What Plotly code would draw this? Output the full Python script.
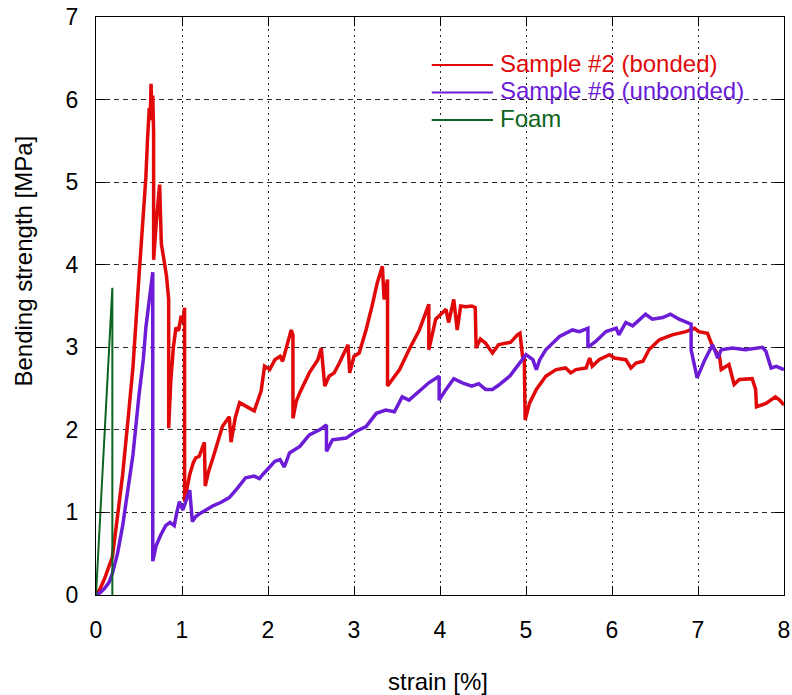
import plotly.graph_objects as go

# Three-point bending tests: stress vs. strain
bonded_strain = [
    0, 0.05, 0.10, 0.15, 0.19, 0.25, 0.31, 0.37, 0.43, 0.50, 0.55, 0.58, 0.60, 0.62, 0.63,
    0.64, 0.65, 0.66, 0.67, 0.67, 0.70, 0.72, 0.74, 0.75, 0.76, 0.79, 0.82, 0.845, 0.845,
    0.87, 0.90, 0.93, 0.96, 0.99, 1.01, 1.03, 1.03, 1.06, 1.09, 1.13, 1.16, 1.20, 1.26,
    1.27, 1.31, 1.36, 1.42, 1.47, 1.51, 1.55, 1.57, 1.62, 1.67, 1.72, 1.78, 1.84, 1.88,
    1.92, 1.96, 2.02, 2.08, 2.14, 2.17, 2.23, 2.27, 2.29, 2.29, 2.33, 2.37, 2.48, 2.58,
    2.62, 2.64, 2.66, 2.71, 2.77, 2.83, 2.93, 2.95, 3.00, 3.06, 3.14, 3.21, 3.27, 3.33,
    3.35, 3.37, 3.39, 3.39, 3.45, 3.53, 3.64, 3.76, 3.87, 3.87, 3.95, 4.07, 4.10, 4.16,
    4.20, 4.24, 4.30, 4.37, 4.41, 4.42, 4.47, 4.53, 4.61, 4.68, 4.76, 4.82, 4.90, 4.93,
    4.96, 4.98, 4.99, 5.04, 5.12, 5.23, 5.35, 5.46, 5.52, 5.58, 5.70, 5.74, 5.77, 5.85,
    5.97, 6.03, 6.16, 6.22, 6.28, 6.36, 6.43, 6.55, 6.70, 6.86, 6.96, 7.01, 7.11, 7.17,
    7.25, 7.27, 7.36, 7.42, 7.48, 7.63, 7.67, 7.68, 7.79, 7.90, 7.95, 8.00,
]
bonded_stress = [
    0, 0.08, 0.20, 0.33, 0.46, 0.95, 1.46, 2.10, 2.76, 3.86, 4.60, 5.06, 5.54, 5.90, 5.75,
    6.19, 5.85, 6.05, 5.60, 4.06, 4.50, 4.70, 4.97, 4.60, 4.25, 4.06, 3.86, 3.58, 2.02,
    2.60, 3.00, 3.24, 3.20, 3.38, 3.30, 3.48, 1.13, 1.30, 1.46, 1.60, 1.66, 1.68, 1.85,
    1.32, 1.50, 1.66, 1.85, 2.04, 2.10, 2.16, 1.85, 2.15, 2.33, 2.30, 2.26, 2.23, 2.35,
    2.47, 2.77, 2.73, 2.85, 2.89, 2.83, 3.05, 3.21, 3.15, 2.14, 2.35, 2.45, 2.69, 2.85,
    2.99, 2.80, 2.53, 2.65, 2.69, 2.81, 3.03, 2.69, 2.89, 2.93, 3.21, 3.50, 3.78, 3.98,
    3.58, 3.70, 3.82, 2.53, 2.62, 2.73, 2.97, 3.21, 3.52, 2.97, 3.34, 3.46, 3.30, 3.58,
    3.21, 3.50, 3.49, 3.50, 3.48, 2.99, 3.10, 3.05, 2.93, 3.03, 3.05, 3.06, 3.15, 3.17,
    2.89, 2.87, 2.12, 2.32, 2.49, 2.65, 2.73, 2.75, 2.69, 2.73, 2.75, 2.87, 2.77, 2.85,
    2.91, 2.87, 2.85, 2.75, 2.81, 2.83, 2.97, 3.09, 3.15, 3.19, 3.23, 3.19, 3.17, 3.01,
    2.89, 2.73, 2.79, 2.55, 2.61, 2.62, 2.49, 2.28, 2.32, 2.40, 2.36, 2.30,
]

unbonded_strain = [
    0, 0.05, 0.10, 0.15, 0.19, 0.25, 0.31, 0.37, 0.43, 0.50, 0.55, 0.58, 0.62, 0.66, 0.66,
    0.70, 0.75, 0.81, 0.86, 0.91, 0.94, 0.97, 1.01, 1.05, 1.09, 1.12, 1.16, 1.20, 1.28,
    1.36, 1.45, 1.55, 1.65, 1.74, 1.84, 1.90, 1.94, 2.02, 2.08, 2.14, 2.19, 2.25, 2.37,
    2.48, 2.60, 2.68, 2.68, 2.75, 2.91, 3.02, 3.14, 3.26, 3.37, 3.47, 3.56, 3.64, 3.76,
    3.87, 3.99, 3.99, 4.07, 4.16, 4.26, 4.37, 4.45, 4.53, 4.61, 4.68, 4.81, 4.92, 5.00,
    5.08, 5.12, 5.16, 5.23, 5.39, 5.46, 5.54, 5.62, 5.72, 5.72, 5.81, 5.93, 6.05, 6.08,
    6.16, 6.24, 6.39, 6.47, 6.59, 6.68, 6.78, 6.92, 6.92, 6.99, 7.08, 7.17, 7.23, 7.27,
    7.40, 7.55, 7.75, 7.79, 7.85, 7.91, 8.00,
]
unbonded_stress = [
    0, 0.03, 0.08, 0.15, 0.26, 0.50, 0.84, 1.25, 1.70, 2.42, 2.85, 3.24, 3.55, 3.91, 0.41,
    0.60, 0.72, 0.84, 0.88, 0.84, 1.00, 1.13, 1.03, 1.15, 1.27, 0.89, 0.95, 0.98, 1.03,
    1.08, 1.12, 1.18, 1.30, 1.42, 1.44, 1.41, 1.46, 1.55, 1.62, 1.64, 1.55, 1.72, 1.80,
    1.94, 2.00, 2.06, 1.74, 1.88, 1.90, 1.98, 2.04, 2.20, 2.24, 2.22, 2.40, 2.36, 2.47,
    2.57, 2.65, 2.36, 2.49, 2.62, 2.57, 2.53, 2.56, 2.49, 2.49, 2.54, 2.65, 2.81, 2.91,
    2.85, 2.73, 2.85, 2.97, 3.13, 3.17, 3.21, 3.19, 3.23, 3.00, 3.07, 3.19, 3.23, 3.15,
    3.30, 3.26, 3.40, 3.34, 3.36, 3.40, 3.34, 3.28, 2.97, 2.63, 2.85, 3.03, 2.87, 2.97,
    2.99, 2.97, 3.00, 2.95, 2.75, 2.77, 2.73,
]

foam_strain = [0, 0.19, 0.19]
foam_stress = [0, 3.72, 0]

x_ticks = [0, 1, 2, 3, 4, 5, 6, 7, 8]
y_ticks = [0, 1, 2, 3, 4, 5, 6, 7]

series = [
    ("Sample #2 (bonded)", bonded_strain, bonded_stress, "rgb(224,8,8)", 3.5),
    ("Sample #6 (unbonded)", unbonded_strain, unbonded_stress, "rgb(108,28,214)", 3.5),
    ("Foam", foam_strain, foam_stress, "rgb(12,100,32)", 2),
]

FONT = "Liberation Sans, Arial, sans-serif"

fig = go.Figure()
for name, xs, ys, color, width in series:
    fig.add_trace(go.Scatter(
        x=xs, y=ys, mode="lines", name=name,
        line=dict(color=color, width=width),
        showlegend=False,
    ))

# hand-built key in the upper right
key_y = [0.917, 0.8695, 0.822]
for (name, _, _, color, _), ky in zip(series, key_y):
    fig.add_shape(type="line", xref="paper", yref="paper",
                  x0=0.488, x1=0.577, y0=ky, y1=ky,
                  line=dict(color=color, width=2))
    fig.add_annotation(xref="paper", yref="paper", x=0.584, y=ky + 0.003,
                       text=name, showarrow=False, xanchor="left", yanchor="middle",
                       font=dict(family=FONT, size=24, color=color))

# axis titles
fig.add_annotation(xref="paper", yref="paper", x=0.497, y=-0.149,
                   text="strain [%]", showarrow=False,
                   xanchor="center", yanchor="middle",
                   font=dict(family=FONT, size=24, color="black"))
fig.add_annotation(xref="paper", yref="paper", x=-0.106, y=0.577,
                   text="Bending strength [MPa]", showarrow=False, textangle=-90,
                   xanchor="center", yanchor="middle",
                   font=dict(family=FONT, size=24, color="black"))

fig.update_layout(
    width=792, height=695,
    margin=dict(l=96, r=8, t=17, b=100, pad=0),
    paper_bgcolor="white", plot_bgcolor="white",
    font=dict(family=FONT, size=23, color="black"),
    showlegend=False,
)
fig.update_xaxes(
    range=[0, 8], tickvals=x_ticks, ticktext=[str(v) for v in x_ticks],
    showline=True, linecolor="black", linewidth=1, mirror="ticks",
    ticks="inside", ticklen=9, tickcolor="black",
    showgrid=True, gridcolor="rgba(0,0,0,0.85)", gridwidth=1, griddash="2px,4px",
    zeroline=False, ticklabelstandoff=14, automargin=False,
)
fig.update_yaxes(
    range=[0, 7], tickvals=y_ticks, ticktext=[str(v) for v in y_ticks],
    showline=True, linecolor="black", linewidth=1, mirror="ticks",
    ticks="inside", ticklen=9, tickcolor="black",
    showgrid=True, gridcolor="rgba(0,0,0,0.85)", gridwidth=1, griddash="5px,4px",
    zeroline=False, ticklabelstandoff=12, automargin=False,
)

fig.write_html("out.html")
